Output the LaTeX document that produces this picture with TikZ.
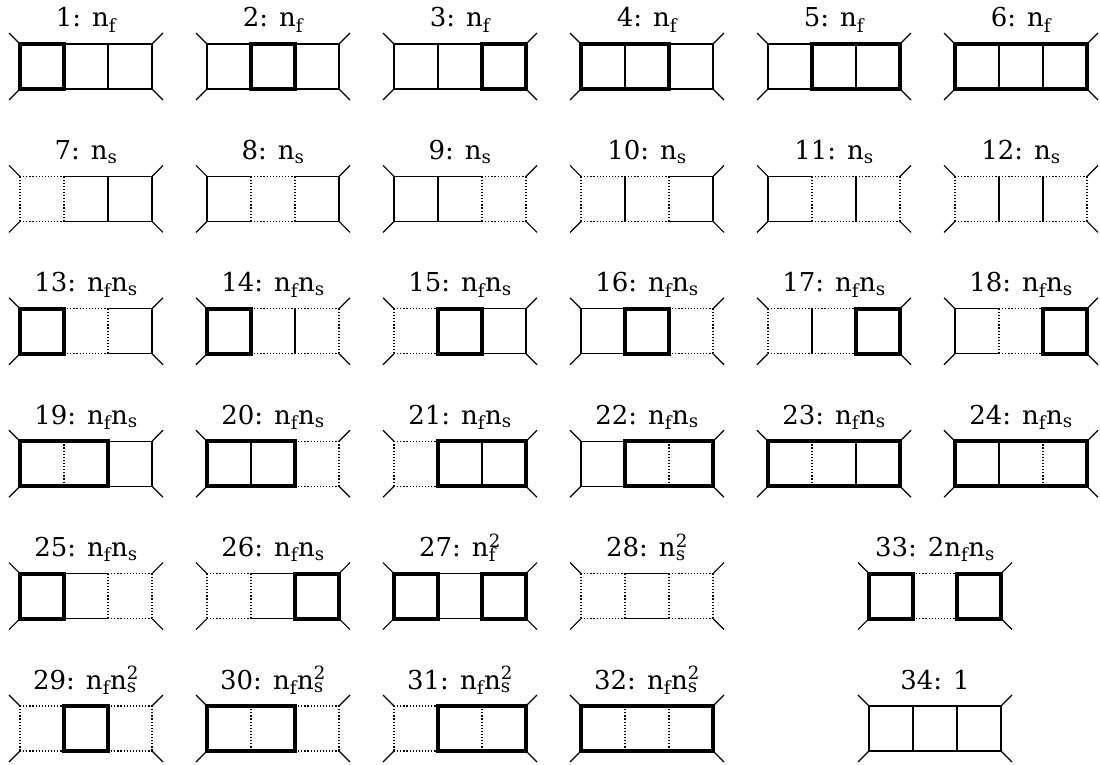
\documentclass[tikz,border=0pt]{standalone}
\usepackage{fontspec}
\setmainfont{DejaVu Serif}
\newcommand\Nf{n\textsubscript{f}}
\newcommand\Ns{n\textsubscript{s}}
\newcommand\Nss{n\rlap{\textsubscript{s}}\textsuperscript{2}}
\newcommand\Nff{n\rlap{\textsubscript{f}}\textsuperscript{2}}
\tikzset{
 eS/.style={line width=1.2pt},
 eD/.style={line width=1.2pt, dash pattern=on 1.2pt off 1.9pt},
 eT/.style={line width=4pt, line cap=rect},
 leg/.style={line width=1.2pt},
 lab/.style={anchor=base, font=\fontsize{26}{30}\selectfont, inner sep=0pt}
}
% #1 name, #2 centre x, #3 top y, #4 label, #5 horizontal styles, #6 vertical styles
\newcommand\dg[6]{%
 \node[lab] (#1) at (#2,{#3-17}) {#4};
 \draw[leg] (#2-66,#3) -- ++(-11,-11);
 \draw[leg] (#2-66,#3+45) -- ++(-11,11);
 \draw[leg] (#2+66,#3) -- ++(11,-11);
 \draw[leg] (#2+66,#3+45) -- ++(11,11);
 \begin{scope}[eT/.style={draw=none}]
  \foreach \s [count=\i from 0] in {#5} {
   \draw[e\s] ({#2-66+44*\i},#3) -- ({#2-22+44*\i},#3);
   \draw[e\s] ({#2-66+44*\i},{#3+45}) -- ({#2-22+44*\i},{#3+45});
  }
  \foreach \s [count=\i from 0] in {#6} {
   \draw[e\s] ({#2-66+44*\i},#3) -- ({#2-66+44*\i},{#3+45});
  }
 \end{scope}
 \begin{scope}[eS/.style={draw=none}, eD/.style={draw=none}]
  \foreach \s [count=\i from 0] in {#5} {
   \draw[e\s] ({#2-66+44*\i},#3) -- ({#2-22+44*\i},#3);
   \draw[e\s] ({#2-66+44*\i},{#3+45}) -- ({#2-22+44*\i},{#3+45});
  }
  \foreach \s [count=\i from 0] in {#6} {
   \draw[e\s] ({#2-66+44*\i},#3) -- ({#2-66+44*\i},{#3+45});
  }
 \end{scope}
}
\begin{document}
\begin{tikzpicture}[x=1pt,y=-1pt]
\useasboundingbox (0,0) rectangle (1100,765);
% row 1
\dg{d1}{86}{44}{1: \Nf}{T,S,S}{T,T,S,S}
\dg{d2}{273}{44}{2: \Nf}{S,T,S}{S,T,T,S}
\dg{d3}{460}{44}{3: \Nf}{S,S,T}{S,S,T,T}
\dg{d4}{647}{44}{4: \Nf}{T,T,S}{T,S,T,S}
\dg{d5}{834}{44}{5: \Nf}{S,T,T}{S,T,S,T}
\dg{d6}{1021}{44}{6: \Nf}{T,T,T}{T,S,S,T}
% row 2
\dg{d7}{86}{176.4}{7: \Ns}{D,S,S}{D,D,S,S}
\dg{d8}{273}{176.4}{8: \Ns}{S,D,S}{S,D,D,S}
\dg{d9}{460}{176.4}{9: \Ns}{S,S,D}{S,S,D,D}
\dg{d10}{647}{176.4}{10: \Ns}{D,D,S}{D,S,D,S}
\dg{d11}{834}{176.4}{11: \Ns}{S,D,D}{S,D,S,D}
\dg{d12}{1021}{176.4}{12: \Ns}{D,D,D}{D,S,S,D}
% row 3
\dg{d13}{86}{308.8}{13: \Nf\Ns}{T,D,S}{T,T,D,S}
\dg{d14}{273}{308.8}{14: \Nf\Ns}{T,D,D}{T,T,S,D}
\dg{d15}{460}{308.8}{15: \Nf\Ns}{D,T,S}{D,T,T,S}
\dg{d16}{647}{308.8}{16: \Nf\Ns}{S,T,D}{S,T,T,D}
\dg{d17}{834}{308.8}{17: \Nf\Ns}{D,D,T}{D,S,T,T}
\dg{d18}{1021}{308.8}{18: \Nf\Ns}{S,D,T}{S,D,T,T}
% row 4
\dg{d19}{86}{441.2}{19: \Nf\Ns}{T,T,S}{T,D,T,S}
\dg{d20}{273}{441.2}{20: \Nf\Ns}{T,T,D}{T,S,T,D}
\dg{d21}{460}{441.2}{21: \Nf\Ns}{D,T,T}{D,T,S,T}
\dg{d22}{647}{441.2}{22: \Nf\Ns}{S,T,T}{S,T,D,T}
\dg{d23}{834}{441.2}{23: \Nf\Ns}{T,T,T}{T,D,S,T}
\dg{d24}{1021}{441.2}{24: \Nf\Ns}{T,T,T}{T,S,D,T}
% row 5
\dg{d25}{86}{573.6}{25: \Nf\Ns}{T,S,D}{T,T,D,D}
\dg{d26}{273}{573.6}{26: \Nf\Ns}{D,S,T}{D,D,T,T}
\dg{d27}{460}{573.6}{27: \Nff}{T,S,T}{T,T,T,T}
\dg{d28}{647}{573.6}{28: \Nss}{D,S,D}{D,D,D,D}
\dg{d33}{935}{573.6}{33: 2\Nf\Ns}{T,D,T}{T,T,T,T}
% row 6
\dg{d29}{86}{706}{29: \Nf\Nss}{D,T,D}{D,T,T,D}
\dg{d30}{273}{706}{30: \Nf\Nss}{T,T,D}{T,D,T,D}
\dg{d31}{460}{706}{31: \Nf\Nss}{D,T,T}{D,T,D,T}
\dg{d32}{647}{706}{32: \Nf\Nss}{T,T,T}{T,D,D,T}
\dg{d34}{935}{706}{34: 1}{S,S,S}{S,S,S,S}
\end{tikzpicture}
\end{document}
